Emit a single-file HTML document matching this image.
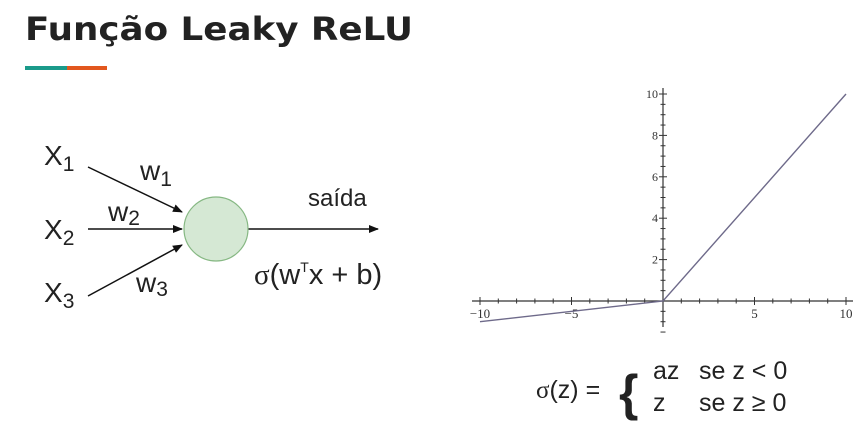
<!DOCTYPE html>
<html><head><meta charset="utf-8"><style>
body{margin:0;width:868px;height:448px;background:#fff;overflow:hidden;font-family:"Liberation Sans",sans-serif}
</style></head><body>
<svg width="868" height="448" style="position:absolute;left:0;top:0">
<text x="25" y="40" font-size="32" font-weight="bold" fill="#222" font-family="DejaVu Sans, Liberation Sans, sans-serif" textLength="388" lengthAdjust="spacingAndGlyphs">Função Leaky ReLU</text>
<rect x="25" y="66" width="42" height="4" fill="#1a9a8a"/>
<rect x="67" y="66" width="40" height="4" fill="#e2571e"/>
<g fill="#222" font-size="28">
<defs><marker id="ar" markerWidth="10" markerHeight="8" refX="9" refY="4" orient="auto" markerUnits="userSpaceOnUse"><path d="M0,0 L10,4 L0,8 z" fill="#111"/></marker></defs>
<line x1="88" y1="167" x2="182" y2="212" stroke="#111" stroke-width="1.5" marker-end="url(#ar)"/>
<line x1="88" y1="229" x2="182" y2="229" stroke="#111" stroke-width="1.5" marker-end="url(#ar)"/>
<line x1="88" y1="296" x2="182" y2="245" stroke="#111" stroke-width="1.5" marker-end="url(#ar)"/>
<line x1="248" y1="229" x2="378" y2="229" stroke="#111" stroke-width="1.5" marker-end="url(#ar)"/>
<circle cx="216" cy="229" r="32" fill="#d5e8d4" stroke="#86b883" stroke-width="1.2"/>
<text x="44" y="165">X<tspan font-size="21" dy="6">1</tspan></text>
<text x="44" y="239">X<tspan font-size="21" dy="6">2</tspan></text>
<text x="44" y="302">X<tspan font-size="21" dy="6">3</tspan></text>
<text x="140" y="180">w<tspan font-size="21" dy="6">1</tspan></text>
<text x="108" y="221">w<tspan font-size="21" dy="4">2</tspan></text>
<text x="136" y="292">w<tspan font-size="21" dy="4">3</tspan></text>
<text x="308" y="206" font-size="24">saída</text>
<text x="254" y="284" font-size="29"><tspan font-family="Liberation Serif, serif">σ</tspan>(w<tspan font-size="14" dy="-12">T</tspan><tspan dy="12">x + b)</tspan></text>
</g>
<g id="chart"></g>
<g font-size="25" fill="#222">
<text x="536" y="398"><tspan font-family="Liberation Serif, serif">σ</tspan>(z) =</text>
<text x="619" y="410" font-size="50" font-weight="bold">{</text>
<text x="653" y="379">az<tspan x="699">se z &lt; 0</tspan></text>
<text x="653" y="411">z<tspan x="699">se z ≥ 0</tspan></text>
</g>
</svg>
<script>
const xVals=[-10,0,10];
const yVals=[-1,0,10];
const xTicks=[-10,-5,5,10];
const yTicks=[2,4,6,8,10];
const NS="http://www.w3.org/2000/svg";
const g=document.getElementById('chart');
const sx=v=>663+v*18.3, sy=v=>301-v*20.7;
function mk(t,a){const e=document.createElementNS(NS,t);for(const k in a)e.setAttribute(k,a[k]);g.appendChild(e);return e;}
let ax=mk('line',{x1:472,y1:sy(0),x2:853,y2:sy(0),stroke:'#333','stroke-width':1.2});


let ay=mk('line',{x1:sx(0),y1:88,x2:sx(0),y2:327,stroke:'#333','stroke-width':1.2});


for(let v=-10;v<=10;v++){if(v===0)continue;const major=v%5===0;mk('line',{x1:sx(v),y1:sy(0)-(major?4:2.5),x2:sx(v),y2:sy(0)+(major?4:2.5),stroke:'#333','stroke-width':1});}
for(let v=-1.5;v<=10;v+=0.5){if(v===0)continue;const major=v%2===0;mk('line',{x1:sx(0)-(major?4:2.5),y1:sy(v),x2:sx(0)+(major?4:2.5),y2:sy(v),stroke:'#333','stroke-width':1});}
xTicks.forEach(v=>{const t=mk('text',{x:sx(v),y:sy(0)+17,'font-size':13,'text-anchor':'middle','font-family':'Liberation Serif, serif',fill:'#333'});t.textContent=v<0?'−'+(-v):v;

});
yTicks.forEach(v=>{const t=mk('text',{x:sx(0)-5,y:sy(v)+4,'font-size':12,'text-anchor':'end','font-family':'Liberation Serif, serif',fill:'#333'});t.textContent=v;

});
const p=mk('polyline',{points:xVals.map((x,i)=>sx(x)+','+sy(yVals[i])).join(' '),fill:'none',stroke:'#6e6a8a','stroke-width':1.4});


</script>
</body></html>
